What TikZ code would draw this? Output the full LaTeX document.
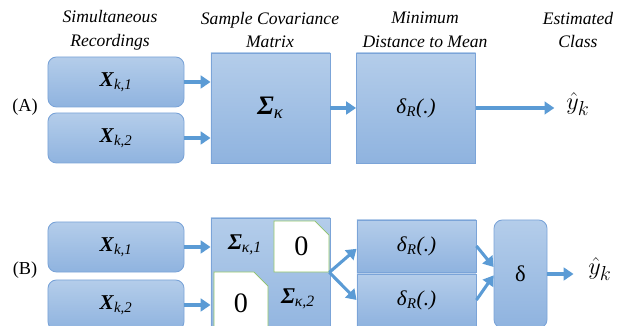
\documentclass[tikz,border=0pt]{standalone}
\usepackage{fontspec}
\setmainfont{Liberation Serif}
\usetikzlibrary{arrows.meta,shapes.misc}
\definecolor{boxtop}{HTML}{B4CDEA}
\definecolor{boxbot}{HTML}{8FB3DF}
\definecolor{boxline}{HTML}{7BA4D8}
\definecolor{arrowblue}{HTML}{5B9BD5}
\definecolor{zeroline}{HTML}{8CC168}
\newcommand{\Xrec}[1]{\textbf{\textit{X}}\textsubscript{\textit{k,#1}}}
\newcommand{\SigK}[1]{\textbf{\textit{Σ}}\textsubscript{\textit{κ#1}}}
\newcommand{\dist}{\textit{δ}\textsubscript{\textit{R}}\textit{(.)}}
\begin{document}
\begin{tikzpicture}[x=0.025cm,y=0.025cm,
    blockbox/.style={draw=boxline,line width=0.6pt,top color=boxtop,bottom color=boxbot,inner sep=0pt},
    recbox/.style={blockbox,rounded corners=6pt,minimum width=3.4cm,minimum height=1.25cm,font=\fontsize{15}{18}\selectfont},
    bigbox/.style={blockbox,minimum width=2.975cm,minimum height=2.75cm},
    zerobox/.style={chamfered rectangle,chamfered rectangle corners=north east,chamfered rectangle xsep=5pt,chamfered rectangle ysep=5pt,
        draw=zeroline,fill=white,line width=0.5pt,inner sep=0pt,font=\fontsize{20}{22}\selectfont},
    head/.style={font=\itshape\fontsize{12.5}{17}\selectfont,align=center},
    tag/.style={font=\fontsize{13}{15}\selectfont},
    flow/.style={draw=arrowblue,line width=2.2pt,-{Triangle[length=7pt,width=9pt]}}]

\useasboundingbox (0,0) rectangle (624,326);
\clip (0,0) rectangle (624,326);

% headers
\node[head] (hRec) at (110,296) {Simultaneous\\Recordings};
\node[head] (hCov) at (270,296) {Sample Covariance\\Matrix};
\node[head] (hMdm) at (425,296) {Minimum\\Distance to Mean};
\node[head] (hCls) at (578,296) {Estimated\\Class};

% (A)
\node[tag] (labA) at (25,219) {(A)};
\node[recbox] (xa1) at (116,244) {\Xrec{1}};
\node[recbox] (xa2) at (116,188) {\Xrec{2}};
\node[bigbox,font=\fontsize{19}{22}\selectfont] (sigA) at (270.5,218) {\SigK{}};
\node[bigbox,font=\fontsize{15}{18}\selectfont] (dA) at (416,218) {\dist};
\node[font=\fontsize{19}{21}\selectfont] (yA) at (578,222) {$\hat{y}_k$};

\draw[flow] (xa1.east) -- (xa1.east -| sigA.west);
\draw[flow] (xa2.east) -- (xa2.east -| sigA.west);
\draw[flow] (sigA.east) -- (dA.west);
\draw[flow,shorten >=5pt] (dA.east) -- (dA.east -| yA.west);

% (B)
\node[tag] (labB) at (25,56) {(B)};
\node[recbox] (xb1) at (116,79) {\Xrec{1}};
\node[recbox] (xb2) at (116,21) {\Xrec{2}};
\node[blockbox,minimum width=2.975cm,minimum height=3.05cm] (sigB) at (270.5,47) {};
\node[zerobox,minimum width=1.375cm,minimum height=1.275cm] (z1) at (301.5,79.5) {0};
\node[zerobox,minimum width=1.35cm,minimum height=1.55cm] (z2) at (241,23) {0};
\node[font=\fontsize{16}{18}\selectfont] (s1) at (245,81) {\SigK{,1}};
\node[font=\fontsize{16}{18}\selectfont] (s2) at (298,27) {\SigK{,2}};
\node[blockbox,minimum width=2.975cm,minimum height=1.3cm,font=\fontsize{15}{18}\selectfont] (dB1) at (416.5,80) {\dist};
\node[blockbox,minimum width=2.975cm,minimum height=1.3cm,font=\fontsize{15}{18}\selectfont] (dB2) at (416.5,26) {\dist};
\node[blockbox,rounded corners=6pt,minimum width=1.325cm,minimum height=2.7cm,font=\fontsize{16}{18}\selectfont] (del) at (520.5,52) {δ};
\node[font=\fontsize{19}{21}\selectfont] (yB) at (600,57) {$\hat{y}_k$};
\coordinate (split) at (z1.south east);

\draw[flow] (xb1.east) -- (xb1.east -| sigB.west);
\draw[flow] (xb2.east) -- (xb2.east -| sigB.west);
\draw[flow] (split) -- ([yshift=-2pt]dB1.west);
\draw[flow] (split) -- (dB2.west);
\draw[flow] (dB1.east) -- ([yshift=5pt]del.west);
\draw[flow] (dB2.east) -- ([yshift=-1pt]del.west);
\draw[flow,shorten >=7pt] (del.east) -- (del.east -| yB.west);

\end{tikzpicture}
\end{document}
